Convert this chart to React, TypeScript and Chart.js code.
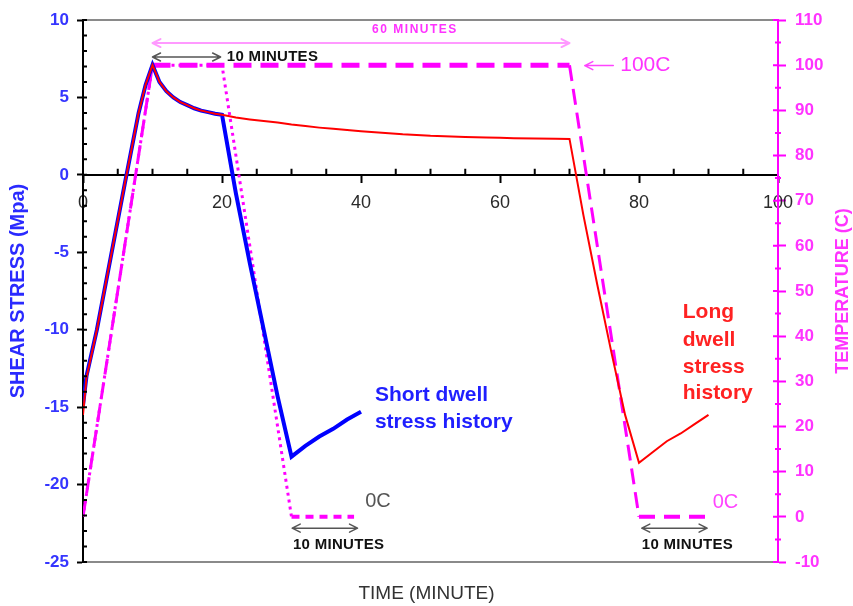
import React, { useEffect, useRef } from 'react';
import { Chart, registerables } from 'chart.js';

Chart.register(...registerables);

// ---------- DATA ----------
// Long dwell stress history (MPa) vs time (minute)
const longTime = [0, 0.5, 2, 4, 6, 8, 9, 10, 11, 12, 13, 14, 15, 16, 17, 18, 19, 20, 22, 24, 26, 28, 30, 32, 34, 36, 38, 40, 42, 44, 46, 48, 50, 52, 55, 58, 60, 62, 65, 68, 70, 72, 74, 76, 78, 80, 82, 84, 86, 88, 90];
const longStress = [-15.5, -13.1, -10.0, -5.3, -0.6, 4.0, 5.8, 7.1, 6.0, 5.4, 5.0, 4.7, 4.5, 4.3, 4.15, 4.05, 3.95, 3.88, 3.7, 3.58, 3.48, 3.38, 3.25, 3.15, 3.05, 2.97, 2.9, 2.82, 2.75, 2.68, 2.62, 2.58, 2.53, 2.5, 2.45, 2.41, 2.39, 2.37, 2.35, 2.33, 2.32, -2.6, -7.1, -11.4, -15.5, -18.6, -17.9, -17.2, -16.7, -16.1, -15.5];

// Short dwell stress history (MPa) vs time (minute)
const shortTime = [0, 0.5, 2, 4, 6, 8, 9, 10, 11, 12, 13, 14, 15, 16, 17, 18, 19, 20, 22, 24, 26, 28, 30, 32, 34, 36, 38, 40];
const shortStress = [-14.9, -13.0, -10.0, -5.3, -0.6, 4.0, 5.8, 7.1, 6.0, 5.4, 5.0, 4.7, 4.5, 4.3, 4.15, 4.05, 3.95, 3.88, -1.2, -5.7, -10.0, -14.3, -18.2, -17.5, -16.9, -16.4, -15.8, -15.3];

// Temperature profiles (C)
const longTempTime = [0, 10, 70, 80, 90];
const longTemp = [0, 100, 100, 0, 0];
const shortTempTime = [0, 10, 20, 30, 39];
const shortTemp = [0, 100, 100, 0, 0];

// Axis ranges / ticks
const timeRange = [0, 100];
const stressRange = [-25, 10];
const tempRange = [-10, 110];

const FONT = '"Liberation Sans", Arial, Helvetica, sans-serif';

const pts = (xs: number[], ys: number[]) => xs.map((x, i) => ({ x, y: ys[i] }));

function drawArrow(ctx: CanvasRenderingContext2D, x1: number, x2: number, y: number, color: string, width: number, both: boolean) {
  ctx.save();
  ctx.strokeStyle = color;
  ctx.lineWidth = width;
  ctx.lineCap = 'round';
  ctx.lineJoin = 'round';
  const h = 8, w = 4;
  ctx.beginPath();
  ctx.moveTo(x1, y);
  ctx.lineTo(x2, y);
  ctx.moveTo(x1 + h, y - w);
  ctx.lineTo(x1, y);
  ctx.lineTo(x1 + h, y + w);
  if (both) {
    ctx.moveTo(x2 - h, y - w);
    ctx.lineTo(x2, y);
    ctx.lineTo(x2 - h, y + w);
  }
  ctx.stroke();
  ctx.restore();
}

function drawText(ctx: CanvasRenderingContext2D, text: string, x: number, y: number, font: string, color: string, spacing = 0) {
  ctx.save();
  ctx.font = font;
  ctx.fillStyle = color;
  ctx.textAlign = 'left';
  ctx.textBaseline = 'middle';
  (ctx as any).letterSpacing = spacing + 'px';
  ctx.fillText(text, x, y);
  ctx.restore();
}

const frameAndTicks = {
  id: 'frameAndTicks',
  afterDraw(chart: any) {
    const { ctx, chartArea, scales } = chart;
    const x = scales.x, y = scales.y, y1 = scales.y1;
    ctx.save();
    // top & bottom gray frame lines
    ctx.strokeStyle = '#8a8a8a';
    ctx.lineWidth = 2;
    ctx.beginPath();
    ctx.moveTo(chartArea.left, chartArea.top);
    ctx.lineTo(chartArea.right, chartArea.top);
    ctx.moveTo(chartArea.left, chartArea.bottom);
    ctx.lineTo(chartArea.right, chartArea.bottom);
    ctx.stroke();
    // left inner ticks
    ctx.strokeStyle = '#000';
    ctx.beginPath();
    for (let v = stressRange[0]; v <= stressRange[1]; v += 1) {
      const py = y.getPixelForValue(v);
      ctx.moveTo(chartArea.left, py);
      ctx.lineTo(chartArea.left + 4, py);
    }
    // x minor ticks (upward)
    const y0 = y.getPixelForValue(0);
    for (let t = timeRange[0] + 5; t < timeRange[1]; t += 5) {
      if (t % 20 === 0) continue;
      const px = x.getPixelForValue(t);
      ctx.moveTo(px, y0);
      ctx.lineTo(px, y0 - 6);
    }
    ctx.stroke();
    // right inner ticks
    ctx.strokeStyle = '#ff00ff';
    ctx.beginPath();
    for (let v = tempRange[0]; v <= tempRange[1]; v += 5) {
      const py = y1.getPixelForValue(v);
      const len = v % 10 === 0 ? 5 : 3;
      ctx.moveTo(chartArea.right - len, py);
      ctx.lineTo(chartArea.right + (v % 10 === 0 ? 0 : 3), py);
    }
    ctx.stroke();
    ctx.restore();

    // right axis title, reading bottom-to-top
    ctx.save();
    ctx.translate(843, (chartArea.top + chartArea.bottom) / 2);
    ctx.rotate(-Math.PI / 2);
    ctx.font = `bold 18px ${FONT}`;
    ctx.fillStyle = '#ff33ff';
    ctx.textAlign = 'center';
    ctx.textBaseline = 'middle';
    ctx.fillText('TEMPERATURE (C)', 0, 0);
    ctx.restore();
  },
};

const annotations = {
  id: 'annotations',
  afterDraw(chart: any) {
    const { ctx, scales } = chart;
    const px = (t: number) => scales.x.getPixelForValue(t);
    const pT = (v: number) => scales.y1.getPixelForValue(v);
    const pS = (v: number) => scales.y.getPixelForValue(v);
    const bold = (s: number) => `bold ${s}px ${FONT}`;
    const reg = (s: number) => `${s}px ${FONT}`;

    // 60 minutes
    drawArrow(ctx, px(10), px(70), pT(104.9), '#ff99ff', 2, true);
    drawText(ctx, '60 MINUTES', px(41.6), pT(107.8), bold(12), '#ff33ff', 1.5);
    // 10 minutes (top)
    drawArrow(ctx, px(10), px(19.8), pT(101.8), '#555', 1.5, true);
    drawText(ctx, '10 MINUTES', px(20.7), pT(101.8), bold(15), '#111', 0.3);
    // 100C
    drawArrow(ctx, px(72.2), px(76.3), pT(99.9), '#ff44ff', 1.5, false);
    drawText(ctx, '100C', px(77.3), pT(99.9), reg(21), '#ff33ff');
    // 0C labels
    drawText(ctx, '0C', px(40.6), pT(3.5), reg(20), '#555');
    drawText(ctx, '0C', px(90.6), pT(3.1), reg(20), '#ff44ff');
    // bottom 10 minutes
    drawArrow(ctx, px(30.1), px(39.5), pT(-2.5), '#555', 1.5, true);
    drawText(ctx, '10 MINUTES', px(30.2), pT(-6.2), bold(15), '#111', 0.3);
    drawArrow(ctx, px(80.4), px(89.8), pT(-2.5), '#555', 1.5, true);
    drawText(ctx, '10 MINUTES', px(80.4), pT(-6.2), bold(15), '#111', 0.3);
    // series labels
    drawText(ctx, 'Short dwell', px(42), pS(-14.2), bold(21), '#1f1fff');
    drawText(ctx, 'stress history', px(42), pS(-16.0), bold(21), '#1f1fff');
    const longLines = ['Long', 'dwell', 'stress', 'history'];
    const longY = [-8.9, -10.65, -12.45, -14.1];
    longLines.forEach((s, i) => drawText(ctx, s, px(86.3), pS(longY[i]), bold(21), '#ff2222'));
  },
};

export default function App() {
  const ref = useRef<HTMLCanvasElement>(null);
  useEffect(() => {
    if (!ref.current) return;
    Chart.defaults.font.family = FONT;
    const isFlat = (c: any, v: number) => c.p0.parsed.y === v && c.p1.parsed.y === v;
    const chart = new Chart(ref.current, {
      type: 'line',
      data: {
        datasets: [
          {
            label: 'Long dwell stress history',
            data: pts(longTime, longStress),
            borderColor: '#ff0000',
            borderWidth: 2,
            pointRadius: 0,
            yAxisID: 'y',
            order: 0,
          },
          {
            label: 'Short dwell stress history',
            data: pts(shortTime, shortStress),
            borderColor: '#0000ff',
            borderWidth: 4,
            pointRadius: 0,
            yAxisID: 'y',
            order: 1,
          },
          {
            label: 'Long dwell temperature',
            data: pts(longTempTime, longTemp),
            borderColor: '#ff00ff',
            borderWidth: 3,
            pointRadius: 0,
            yAxisID: 'y1',
            order: 2,
            segment: {
              borderWidth: (c: any) => (isFlat(c, 100) ? 5 : isFlat(c, 0) ? 4 : 3),
              borderDash: (c: any) => (isFlat(c, 100) ? [18, 9] : isFlat(c, 0) ? [16, 9] : [16, 8]),
            },
          },
          {
            label: 'Short dwell temperature',
            data: pts(shortTempTime, shortTemp),
            borderColor: '#ff00ff',
            borderWidth: 3,
            pointRadius: 0,
            yAxisID: 'y1',
            order: 3,
            segment: {
              borderWidth: (c: any) => (isFlat(c, 0) ? 4 : 3),
              borderDash: (c: any) => (isFlat(c, 0) ? [8, 6] : [3, 4]),
            },
          },
        ],
      },
      options: {
        responsive: false,
        animation: false,
        devicePixelRatio: 1,
        layout: { padding: { top: 20, left: 0, right: 0, bottom: 0 } },
        plugins: {
          legend: { display: false },
          tooltip: { enabled: false },
          title: {
            display: true,
            position: 'bottom',
            text: 'TIME (MINUTE)',
            color: '#333',
            font: { size: 19, weight: 'normal', lineHeight: 1.2 },
            padding: { top: 20, bottom: 1.2 },
          },
        },
        scales: {
          x: {
            type: 'linear',
            min: timeRange[0],
            max: timeRange[1],
            position: { y: 0 } as any,
            ticks: { stepSize: 20, color: '#2a2a2a', font: { size: 18 }, padding: 10, maxRotation: 0, autoSkip: false },
            grid: { drawOnChartArea: false, drawTicks: true, tickLength: 7, tickColor: '#000', tickWidth: 2 },
            border: { color: '#000', width: 2 },
          },
          y: {
            type: 'linear',
            position: 'left',
            min: stressRange[0],
            max: stressRange[1],
            ticks: { stepSize: 5, color: '#3535ff', font: { size: 17, weight: 'bold' }, padding: 8 },
            grid: { drawOnChartArea: false, tickLength: 6, tickColor: '#000', tickWidth: 2 },
            border: { color: '#000', width: 2 },
            title: {
              display: true,
              text: 'SHEAR STRESS (Mpa)',
              color: '#2a2aff',
              font: { size: 20, weight: 'bold', lineHeight: 1.2 },
              padding: { top: 6, bottom: 0 },
            },
            afterFit: (s: any) => { s.width = 83; },
          },
          y1: {
            type: 'linear',
            position: 'right',
            min: tempRange[0],
            max: tempRange[1],
            ticks: { stepSize: 10, color: '#ff33ff', font: { size: 17, weight: 'bold' }, padding: 9 },
            grid: { drawOnChartArea: false, tickLength: 8, tickColor: '#ff00ff', tickWidth: 2 },
            border: { color: '#ff00ff', width: 2 },
            afterFit: (s: any) => { s.width = 75; },
          },
        },
      } as any,
      plugins: [frameAndTicks, annotations],
    });
    return () => chart.destroy();
  }, []);
  return (
    <div style={{ position: 'fixed', left: 0, top: 0, width: 853, height: 606, background: '#fff' }}>
      <canvas ref={ref} width={853} height={606} />
    </div>
  );
}
